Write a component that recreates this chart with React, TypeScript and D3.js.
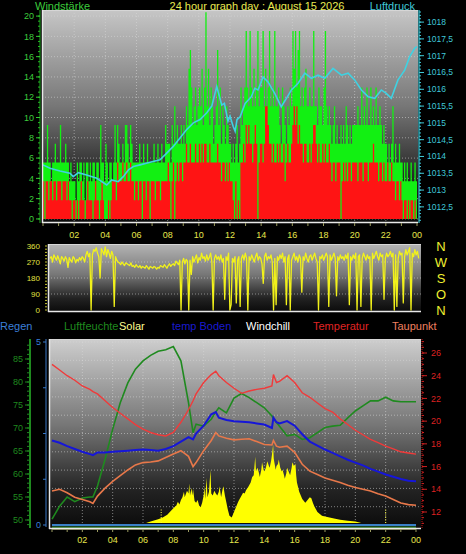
import { area, curveStepAfter, line, range, scaleLinear } from 'd3';

// Weather station 24h overview: wind + pressure, wind direction, and a
// multi-axis temperature / humidity / solar panel. d3 only builds scales and
// paths, everything is rendered as plain SVG JSX.

// ---- wind (5 minute samples, knots) ----
const gustKn = [
  3, 3, 3, 5, 3, 3, 2, 3, 3, 4, 3, 3,
  3, 5, 3, 3, 3, 4, 3, 3, 2, 3, 2, 2,
  2, 1, 3, 2, 3, 3, 2, 3, 1, 3, 3, 2,
  3, 2, 3, 3, 2, 3, 3, 2, 5, 3, 3, 2,
  4, 3, 2, 3, 3, 2, 3, 5, 3, 5, 4, 3,
  3, 4, 3, 5, 5, 4, 3, 5, 4, 3, 3, 3,
  3, 3, 4, 3, 3, 4, 3, 3, 4, 3, 3, 3,
  3, 4, 3, 3, 4, 3, 3, 4, 3, 3, 5, 4,
  4, 4, 3, 5, 4, 6, 4, 5, 4, 4, 5, 4,
  5, 4, 6, 5, 8, 9, 7, 5, 6, 7, 5, 6,
  7, 6, 8, 5, 7, 11, 6, 8, 5, 7, 6, 4,
  5, 6, 9, 5, 7, 4, 6, 5, 4, 6, 5, 4,
  4, 3, 4, 3, 4, 5, 3, 4, 7, 5, 6, 7,
  10, 7, 6, 10, 7, 6, 8, 6, 7, 10, 6, 7,
  7, 10, 6, 8, 6, 7, 10, 6, 7, 6, 10, 6,
  6, 7, 5, 4, 7, 6, 5, 4, 6, 5, 7, 6,
  10, 8, 10, 7, 9, 10, 6, 7, 6, 7, 8, 6,
  6, 7, 6, 6, 10, 6, 6, 5, 7, 6, 6, 5,
  7, 10, 6, 5, 6, 5, 4, 5, 6, 4, 5, 4,
  4, 5, 4, 5, 4, 6, 5, 4, 5, 4, 5, 5,
  5, 5, 6, 5, 5, 7, 5, 6, 5, 7, 5, 5,
  7, 5, 6, 5, 7, 5, 5, 6, 5, 4, 5, 4,
  4, 3, 4, 3, 4, 6, 3, 4, 3, 3, 4, 3,
  3, 2, 3, 2, 3, 2, 2, 3, 2, 2, 3, 2,
];
const speedKn = [
  2, 0, 2, 2, 1, 2, 2, 1, 2, 2, 1, 2,
  2, 2, 1, 2, 2, 2, 1, 2, 1, 1, 0, 1,
  1, 0, 1, 0, 1, 2, 1, 1, 0, 1, 2, 1,
  1, 1, 0, 1, 2, 1, 1, 0, 1, 2, 1, 0,
  0, 0, 1, 0, 1, 2, 2, 2, 1, 3, 2, 2,
  2, 3, 2, 2, 3, 2, 2, 3, 2, 2, 1, 2,
  2, 1, 2, 2, 0, 2, 2, 1, 2, 2, 0, 2,
  2, 2, 1, 2, 2, 2, 1, 2, 2, 2, 2, 2,
  3, 2, 0, 2, 3, 0, 2, 3, 2, 3, 3, 2,
  3, 3, 4, 3, 3, 4, 3, 3, 3, 4, 3, 3,
  4, 3, 4, 3, 4, 4, 3, 3, 4, 3, 3, 3,
  3, 3, 4, 3, 3, 2, 3, 3, 2, 3, 2, 3,
  2, 2, 1, 0, 2, 0, 1, 0, 3, 3, 4, 3,
  5, 4, 5, 4, 4, 3, 4, 5, 4, 0, 3, 4,
  4, 3, 4, 6, 6, 5, 4, 4, 3, 4, 3, 3,
  4, 3, 4, 3, 3, 4, 2, 3, 4, 3, 3, 4,
  5, 6, 5, 6, 4, 5, 4, 4, 3, 4, 4, 3,
  3, 4, 3, 4, 5, 5, 4, 3, 4, 3, 3, 4,
  3, 4, 3, 3, 4, 3, 2, 3, 3, 2, 3, 3,
  3, 0, 2, 3, 2, 3, 2, 3, 3, 2, 3, 3,
  3, 3, 2, 3, 3, 3, 2, 3, 3, 3, 2, 3,
  3, 3, 4, 3, 3, 3, 2, 3, 3, 2, 3, 2,
  2, 3, 2, 2, 3, 2, 2, 1, 2, 2, 1, 2,
  1, 0, 1, 1, 0, 1, 0, 1, 1, 0, 1, 0,
];
const KMH_PER_KN = 1.852;

// ---- wind direction (5 minute samples, degrees) ----
const windDir = [
  290, 300, 270, 310, 295, 280, 305, 285, 260, 300, 290, 275,
  300, 285, 240, 295, 280, 270, 300, 290, 265, 285, 275, 295,
  280, 300, 290, 270, 310, 330, 300, 320, 0, 310, 340, 330,
  350, 320, 300, 180, 345, 330, 310, 355, 300, 340, 320, 290,
  330, 310, 20, 300, 280, 270, 265, 255, 270, 260, 250, 265,
  260, 255, 250, 265, 245, 250, 240, 255, 245, 240, 250, 235,
  245, 240, 235, 250, 240, 230, 245, 240, 235, 245, 240, 230,
  240, 235, 250, 245, 240, 255, 245, 235, 250, 260, 245, 255,
  260, 250, 275, 265, 255, 280, 0, 270, 290, 260, 285, 275,
  0, 280, 200, 300, 270, 290, 310, 265, 295, 280, 320, 290,
  300, 275, 310, 280, 295, 320, 270, 0, 290, 310, 285, 300,
  280, 310, 270, 290, 60, 300, 280, 320, 0, 30, 290, 270,
  300, 40, 280, 300, 20, 290, 310, 280, 320, 290, 0, 300,
  280, 310, 290, 270, 300, 320, 280, 300, 290, 260, 150, 300,
  320, 280, 300, 290, 310, 270, 0, 290, 30, 300, 280, 310,
  290, 320, 270, 300, 30, 290, 310, 0, 280, 300, 320, 280,
  300, 270, 310, 290, 100, 300, 280, 320, 290, 270, 300, 310,
  280, 300, 320, 290, 270, 0, 300, 290, 310, 280, 300, 320,
  300, 20, 310, 280, 300, 320, 290, 80, 300, 280, 310, 290,
  300, 280, 310, 290, 320, 30, 300, 280, 310, 290, 320, 0,
  300, 310, 20, 290, 320, 300, 280, 310, 290, 300, 0, 320,
  290, 310, 330, 300, 280, 320, 300, 310, 60, 290, 320, 300,
  310, 330, 300, 320, 0, 310, 20, 290, 330, 310, 320, 40,
  300, 340, 310, 330, 350, 0, 320, 300, 340, 310, 330, 290,
];

// ---- pressure (hPa) ----
const pressureHours = [
  0, 0.45, 1.09, 1.73, 1.94, 2.27, 2.8, 3.45, 4.09, 4.41, 4.83, 5.15, 5.48, 5.8, 6.23, 6.87,
  7.51, 7.94, 8.36, 8.79, 9.22, 9.65, 10.08, 10.51, 10.83, 11.15, 11.47, 11.64, 11.87, 12.0,
  12.2, 12.33, 12.45, 12.65, 12.97, 13.37, 13.59, 13.8, 14.12, 14.44, 14.87, 15.29, 15.62,
  15.94, 16.37, 16.8, 17.22, 17.65, 18.08, 18.61, 19.15, 19.58, 20.0, 20.43, 20.86, 21.29,
  21.71, 22.03, 22.35, 22.78, 23.21, 23.53, 23.85, 24,
];
const pressureHpa = [
  1013.75, 1013.65, 1013.57, 1013.5, 1013.4, 1013.52, 1013.45, 1013.35, 1013.15, 1013.3,
  1013.25, 1013.4, 1013.6, 1013.7, 1013.75, 1013.83, 1013.9, 1014.1, 1014.3, 1014.55,
  1014.8, 1015.0, 1015.1, 1015.3, 1015.5, 1016.08, 1015.53, 1015.58, 1015.05, 1015.2,
  1014.9, 1014.75, 1015.1, 1015.18, 1015.58, 1015.78, 1016.03, 1015.98, 1016.37, 1016.22,
  1015.88, 1015.48, 1015.73, 1015.98, 1016.18, 1016.48, 1016.33, 1016.42, 1016.33, 1016.62,
  1016.42, 1016.48, 1016.28, 1015.98, 1015.78, 1015.73, 1015.98, 1015.88, 1015.73, 1016.28,
  1016.57, 1016.97, 1017.22, 1017.27,
];

// ---- temperatures / humidity ----
const tHours = [
  0, 0.5, 1, 1.5, 2, 2.5, 2.7, 3, 3.5, 4, 4.5, 5, 5.5, 6, 6.5, 7, 7.5, 8, 8.5, 9, 9.3, 9.5,
  10, 10.5, 10.8, 11, 11.5, 12, 12.5, 13, 13.5, 14, 14.5, 14.6, 14.8, 15, 15.5, 16, 16.5, 17,
  17.5, 18, 18.5, 19, 19.5, 20, 20.5, 21, 21.5, 22, 22.5, 23, 23.5, 24,
];
const temperature = [
  25.0, 24.5, 24.0, 23.6, 23.1, 22.8, 22.6, 22.4, 21.8, 21.2, 20.7, 20.2, 19.7, 19.3, 19.0,
  18.8, 18.7, 19.0, 19.9, 21.0, 21.8, 22.4, 23.4, 24.1, 24.4, 24.0, 23.4, 22.9, 22.45, 22.65,
  22.8, 22.9, 23.1, 24.1, 23.4, 23.5, 24.0, 23.4, 22.5, 22.1, 21.6, 21.1, 20.8, 20.2, 19.7,
  19.2, 18.8, 18.4, 18.1, 17.8, 17.55, 17.3, 17.2, 17.1,
];
const soilTemp = [
  18.3, 18.1, 17.8, 17.55, 17.3, 17.1, 17.0, 17.25, 17.25, 17.3, 17.35, 17.4, 17.45, 17.5,
  17.45, 17.4, 17.55, 17.8, 18.2, 18.6, 18.4, 18.9, 19.6, 20.6, 20.8, 20.3, 20.1, 20.0, 19.95,
  19.9, 19.8, 19.7, 19.4, 20.3, 19.9, 19.8, 20.0, 19.6, 18.85, 18.2, 17.85, 17.5, 17.2, 16.9,
  16.6, 16.35, 16.1, 15.8, 15.55, 15.3, 15.1, 14.9, 14.75, 14.7,
];
const dewPoint = [
  13.85, 14.0, 13.7, 13.3, 13.1, 12.9, 12.75, 13.4, 14.1, 14.7, 15.2, 15.7, 16.15, 16.35,
  16.4, 16.5, 16.8, 17.1, 17.4, 16.9, 16.0, 16.35, 17.4, 18.3, 19.0, 18.7, 18.5, 18.35, 18.4,
  18.45, 18.2, 17.95, 17.9, 18.3, 17.8, 17.7, 17.8, 17.25, 16.2, 15.6, 15.3, 15.0, 14.8, 14.6,
  14.35, 14.15, 14.0, 13.85, 13.6, 13.4, 13.1, 12.8, 12.65, 12.6,
];
const humidity = [
  50.2, 53, 55.0, 54.0, 54.8, 55.0, 55.0, 57.4, 63.2, 69.7, 75.5, 79.8, 82.8, 84.6, 85.8,
  86.7, 87.0, 87.7, 84.6, 75.5, 69.0, 70.8, 70.4, 71.9, 73.5, 74.4, 73.3, 76.5, 77.5, 76.6,
  75.5, 74.4, 72.6, 72.0, 71.2, 70.4, 68.3, 68.6, 67.5, 67.9, 69.0, 70.1, 70.4, 70.6, 72.2,
  73.7, 74.8, 75.9, 75.9, 76.7, 75.9, 75.7, 75.7, 75.7,
];
const rainHours = [0, 24];
const rainMm = [0, 0];

// ---- solar (W/m²) ----
const solarHours = [
  6.2, 6.5, 7, 7.3, 7.6, 8, 8.2, 8.3, 8.4, 8.5,
  8.6, 8.7, 8.75, 8.9, 9.0, 9.05, 9.1, 9.2, 9.25, 9.3,
  9.4, 9.5, 9.6, 9.7, 9.8, 9.9, 10.0, 10.05, 10.1, 10.2,
  10.25, 10.35, 10.45, 10.5, 10.6, 10.7, 10.8, 10.9, 11.0, 11.05,
  11.15, 11.25, 11.3, 11.4, 11.5, 11.6, 11.7, 11.85, 12.0, 12.1,
  12.2, 12.3, 12.4, 12.5, 12.6, 12.7, 12.8, 12.9, 13.0, 13.1,
  13.2, 13.3, 13.4, 13.45, 13.55, 13.65, 13.7, 13.8, 13.85, 13.95,
  14.0, 14.1, 14.2, 14.3, 14.35, 14.45, 14.5, 14.58, 14.62, 14.66,
  14.75, 14.8, 14.9, 14.95, 15.05, 15.15, 15.2, 15.3, 15.35, 15.45,
  15.5, 15.6, 15.7, 15.8, 15.85, 15.95, 16.05, 16.1, 16.15, 16.3,
  16.5, 16.7, 16.8, 16.9, 17.0, 17.1, 17.2, 17.3, 17.5, 17.8,
  18.0, 18.3, 18.6, 19.0, 19.5, 20.0, 20.4,
];
const solar = [
  0, 8, 20, 30, 45, 80, 95, 115, 100, 125,
  140, 170, 140, 175, 160, 215, 150, 190, 150, 185,
  120, 110, 125, 95, 85, 110, 150, 200, 130, 245,
  140, 170, 290, 160, 150, 175, 160, 150, 170, 200,
  140, 185, 200, 150, 110, 70, 40, 30, 60, 80,
  100, 120, 135, 150, 165, 160, 180, 190, 205, 220,
  250, 260, 360, 280, 300, 270, 250, 290, 330, 290,
  280, 300, 335, 310, 300, 340, 370, 425, 350, 330,
  290, 310, 320, 345, 300, 280, 290, 260, 240, 270,
  300, 280, 260, 300, 330, 310, 320, 260, 220, 170,
  130, 110, 120, 130, 140, 135, 110, 90, 60, 40,
  35, 30, 25, 18, 12, 8, 0,
];
const solarMarkHours = [7.2, 22];

// ---- ticks / labels ----
const hourLabels = ['02', '04', '06', '08', '10', '12', '14', '16', '18', '20', '22', '00'];
const windTicks = [0, 2, 4, 6, 8, 10, 12, 14, 16, 18, 20];
const pressureTicks = [1012.5, 1013, 1013.5, 1014, 1014.5, 1015, 1015.5, 1016, 1016.5, 1017, 1017.5, 1018];
const dirTicks = [0, 90, 180, 270, 360];
const compass = ['N', 'O', 'S', 'W', 'N'];
const humTicks = [50, 55, 60, 65, 70, 75, 80, 85];
const tempTicks = [12, 14, 16, 18, 20, 22, 24, 26];
const rainLabelTicks = [0, 5];
const rainTicks = [0, 1.25, 2.5, 3.75, 5];
const rainGrid = [0.5, 1, 1.5, 2, 2.5, 3, 3.5, 4, 4.5, 5];
const legendNames = ['Regen', 'Luftfeuchte', 'Solar', 'temp Boden', 'Windchill', 'Temperatur', 'Taupunkt'];
const legendColors = ['#3b7fd8', '#1f8a1f', '#ffff90', '#1a1ad0', '#ffffff', '#e02424', '#f08060'];

// ---- layout ----
const W = 466;
const H = 554;
const FONT = '"Liberation Sans", Arial, sans-serif';
const LEGEND_X = [0, 64, 119, 172, 246, 313, 392];
const TOP = { x0: 42, x1: 418, y0: 10, y1: 223 };
const MID = { x0: 48, x1: 421, y0: 244, y1: 312 };
const BOT = { x0: 49, x1: 421, y0: 339, y1: 529 };
const GRID = { stroke: '#d8d8d8', strokeOpacity: 0.55, strokeDasharray: '1 2', strokeWidth: 1 };
const AXIS_YELLOW = '#e6e64c';

const evenHours = range(2, 24, 2);
const allHours = range(0, 25, 1);

const xTop = scaleLinear().domain([0, 24]).range([43, 417]);
const yWind = scaleLinear().domain([-0.4, 20.6]).range([TOP.y1, TOP.y0]);
const yPress = scaleLinear().domain([1012.02, 1018.36]).range([TOP.y1, TOP.y0]);

const xMid = scaleLinear().domain([0, 24]).range([50, 420]);
const yDir = scaleLinear().domain([0, 360]).range([310, 246]);

const xBot = scaleLinear().domain([0, 24]).range([52, 416]);
const yTemp = scaleLinear().domain([12, 26]).range([512, 353]);
const yHum = scaleLinear().domain([50, 85]).range([520, 359]);
const yRain = scaleLinear().domain([0, 5]).range([525, 342]);
const ySolar = scaleLinear().domain([0, 1000]).range([523, 339]);

type P = [number, number];

function windArea(values: number[]) {
  const pts: P[] = values.map((v, i) => [i / 12, v * KMH_PER_KN]);
  pts.push([24, values[values.length - 1] * KMH_PER_KN]);
  return (
    area<P>()
      .x((d) => xTop(d[0]))
      .y0(yWind(0))
      .y1((d) => yWind(d[1]))
      .curve(curveStepAfter)(pts) ?? undefined
  );
}

function series(hours: number[], values: number[], x: (v: number) => number, y: (v: number) => number) {
  const pts: P[] = hours.map((h, i) => [h, values[i]]);
  return (
    line<P>()
      .x((d) => x(d[0]))
      .y((d) => y(d[1]))(pts) ?? undefined
  );
}

function Backdrop({ box, id }: { box: typeof TOP; id: string }) {
  return <rect x={box.x0} y={box.y0} width={box.x1 - box.x0} height={box.y1 - box.y0} fill={`url(#${id})`} />;
}

function Frame({ box }: { box: typeof TOP }) {
  return (
    <g fill="none">
      <line x1={box.x0} x2={box.x1} y1={box.y0 + 0.5} y2={box.y0 + 0.5} stroke="#d6d6d6" />
      <line x1={box.x0 + 0.5} x2={box.x0 + 0.5} y1={box.y0} y2={box.y1} stroke="#e8e8e8" strokeWidth={1.5} />
      <line x1={box.x0} x2={box.x1} y1={box.y1 - 0.5} y2={box.y1 - 0.5} stroke="#e8e8e8" strokeWidth={1.5} />
    </g>
  );
}

function Gradient({ id, top }: { id: string; top: string }) {
  return (
    <linearGradient id={id} x1="0" x2="0" y1="0" y2="1">
      <stop offset="0" stopColor={top} />
      <stop offset="0.45" stopColor="#777777" />
      <stop offset="0.8" stopColor="#222222" />
      <stop offset="1" stopColor="#0a0a0a" />
    </linearGradient>
  );
}

function fmtPress(v: number) {
  return String(v).replace('.', ',');
}

export default function App() {
  const windMinor = range(0, 20.01, 0.5);
  const pressMinor = range(1012.1, 1018.35, 0.1);
  const humMinor = range(49, 89, 1);
  const tempMinor = range(11, 27.01, 0.5);
  const dirMinor = range(0, 361, 18);

  return (
    <svg
      width={W}
      height={H}
      viewBox={`0 0 ${W} ${H}`}
      style={{ position: 'absolute', left: 0, top: 0, display: 'block', fontFamily: FONT }}
    >
      <defs>
        <Gradient id="bgTop" top="#c6c6c6" />
        <Gradient id="bgMid" top="#b4b4b4" />
        <Gradient id="bgBot" top="#cecece" />
      </defs>
      <rect width={W} height={H} fill="#000" />

      {/* ---------- header ---------- */}
      <text x={35} y={10} fill="#3ccc3c" style={{ fontSize: 11 }}>Windstärke</text>
      <text x={257} y={10} textAnchor="middle" fill="#e8e850" style={{ fontSize: 11 }}>
        24 hour graph day : August 15 2026
      </text>
      <text x={415} y={10} textAnchor="end" fill="#40c8d8" style={{ fontSize: 11 }}>Luftdruck</text>

      {/* ---------- wind / pressure panel ---------- */}
      <Backdrop box={TOP} id="bgTop" />
      {windTicks.map((t) => (
        <line key={t} x1={TOP.x0} x2={TOP.x1} y1={yWind(t)} y2={yWind(t)} {...GRID} />
      ))}
      {evenHours.map((h) => (
        <line key={h} x1={xTop(h)} x2={xTop(h)} y1={TOP.y0} y2={TOP.y1} {...GRID} />
      ))}
      <path d={windArea(gustKn)} fill="#12f012" />
      <path d={windArea(speedKn)} fill="#ff1414" />
      <path d={series(pressureHours, pressureHpa, xTop, yPress)} fill="none" stroke="#3fd2e2" strokeWidth={1.6} />
      <Frame box={TOP} />

      {/* left wind axis */}
      <line x1={40} x2={40} y1={TOP.y0} y2={TOP.y1} stroke="#22aa22" />
      {windMinor.map((t) => (
        <line key={t} x1={38} x2={40} y1={yWind(t)} y2={yWind(t)} stroke="#22bb22" />
      ))}
      {windTicks.map((t) => (
        <g key={t}>
          <line x1={36} x2={40} y1={yWind(t)} y2={yWind(t)} stroke="#33cc33" />
          <text x={34} y={yWind(t)} dy="0.35em" textAnchor="end" fill="#3ccc3c" style={{ fontSize: 9 }}>
            {t}
          </text>
        </g>
      ))}

      {/* right pressure axis */}
      <line x1={419} x2={419} y1={TOP.y0} y2={TOP.y1} stroke="#3fc8d8" strokeWidth={1.2} />
      {pressMinor.map((t) => (
        <line key={t} x1={419} x2={421} y1={yPress(t)} y2={yPress(t)} stroke="#3fc8d8" />
      ))}
      {pressureTicks.map((t) => (
        <g key={t}>
          <line x1={419} x2={424} y1={yPress(t)} y2={yPress(t)} stroke="#3fc8d8" />
          <text x={427} y={yPress(t)} dy="0.35em" fill="#3fc8d8" style={{ fontSize: 8.5 }}>
            {fmtPress(t)}
          </text>
        </g>
      ))}

      {/* time axis */}
      {allHours.map((h) => (
        <line key={h} x1={xTop(h)} x2={xTop(h)} y1={TOP.y1} y2={TOP.y1 + 3} stroke="#9a9a60" />
      ))}
      {evenHours.concat([24]).map((h, i) => (
        <text key={h} x={xTop(h)} y={238} textAnchor="middle" fill={AXIS_YELLOW} style={{ fontSize: 9 }}>
          {hourLabels[i]}
        </text>
      ))}

      {/* ---------- wind direction panel ---------- */}
      <Backdrop box={MID} id="bgMid" />
      {[90, 180, 270].map((t) => (
        <line key={t} x1={MID.x0} x2={MID.x1} y1={yDir(t)} y2={yDir(t)} {...GRID} />
      ))}
      <path
        d={series(windDir.map((_, i) => i / 12), windDir, xMid, yDir)}
        fill="none"
        stroke="#f2f21a"
        strokeWidth={1.3}
        strokeLinejoin="round"
      />
      <Frame box={MID} />
      {dirMinor.map((t) => (
        <line key={t} x1={45} x2={47} y1={yDir(t)} y2={yDir(t)} stroke="#c8c830" />
      ))}
      {dirTicks.map((t) => (
        <text key={t} x={40} y={yDir(t)} dy="0.35em" textAnchor="end" fill="#e0e040" style={{ fontSize: 8 }}>
          {t}
        </text>
      ))}
      {dirTicks.map((t, i) => (
        <text key={t} x={441} y={yDir(t)} dy="0.36em" textAnchor="middle" fill="#f0f030" style={{ fontSize: 13 }}>
          {compass[i]}
        </text>
      ))}

      {/* ---------- legend ---------- */}
      {legendNames.map((n, i) => (
        <text key={n} x={LEGEND_X[i]} y={330} fill={legendColors[i]} style={{ fontSize: 11 }}>
          {n}
        </text>
      ))}

      {/* ---------- temperature panel ---------- */}
      <Backdrop box={BOT} id="bgBot" />
      {rainGrid.map((t) => (
        <line key={t} x1={BOT.x0} x2={BOT.x1} y1={yRain(t)} y2={yRain(t)} {...GRID} />
      ))}
      {evenHours.map((h) => (
        <line key={h} x1={xBot(h)} x2={xBot(h)} y1={BOT.y0} y2={BOT.y1} {...GRID} />
      ))}
      <path
        d={
          area<P>()
            .x((d) => xBot(d[0]))
            .y0(ySolar(0))
            .y1((d) => ySolar(d[1]))(solarHours.map((h, i) => [h, solar[i]] as P)) ?? undefined
        }
        fill="#ffff00"
      />
      {solarMarkHours.map((h) => (
        <line
          key={h}
          x1={xBot(h)}
          x2={xBot(h)}
          y1={ySolar(0)}
          y2={ySolar(80)}
          stroke="#ffff40"
          strokeDasharray="1 1.5"
        />
      ))}
      <path d={series(tHours, humidity, xBot, yHum)} fill="none" stroke="#1f8a1f" strokeWidth={1.6} />
      <path d={series(tHours, soilTemp, xBot, yTemp)} fill="none" stroke="#1616d8" strokeWidth={2} />
      <path d={series(tHours, temperature, xBot, yTemp)} fill="none" stroke="#f03a3a" strokeWidth={1.4} />
      <path d={series(tHours, dewPoint, xBot, yTemp)} fill="none" stroke="#e8784a" strokeWidth={1.6} />
      <path d={series(rainHours, rainMm, xBot, yRain)} fill="none" stroke="#3a80c8" strokeWidth={2} />
      <line x1={xBot(0)} x2={xBot(24)} y1={yRain(0) + 2.2} y2={yRain(0) + 2.2} stroke="#2a7a2a" strokeWidth={1.4} />
      <line x1={xBot(0)} x2={xBot(24)} y1={yRain(0) + 3.8} y2={yRain(0) + 3.8} stroke="#e8e890" strokeWidth={1.6} />
      <Frame box={BOT} />

      {/* humidity axis */}
      <line x1={30} x2={30} y1={BOT.y0} y2={BOT.y1 - 1} stroke="#1f8a1f" strokeWidth={2} />
      {humMinor.map((t) => (
        <line key={t} x1={27} x2={29} y1={yHum(t)} y2={yHum(t)} stroke="#1f8a1f" />
      ))}
      {humTicks.map((t) => (
        <g key={t}>
          <line x1={25} x2={29} y1={yHum(t)} y2={yHum(t)} stroke="#1f8a1f" />
          <text x={23} y={yHum(t)} dy="0.35em" textAnchor="end" fill="#1f8a1f" style={{ fontSize: 9 }}>
            {t}
          </text>
        </g>
      ))}

      {/* rain axis */}
      <line x1={46} x2={46} y1={BOT.y0} y2={BOT.y1 - 2} stroke="#3a78c8" />
      {rainTicks.map((t) => (
        <line key={t} x1={43} x2={46} y1={yRain(t)} y2={yRain(t)} stroke="#3a78c8" />
      ))}
      {rainLabelTicks.map((t) => (
        <text key={t} x={41} y={yRain(t)} dy="0.35em" textAnchor="end" fill="#3b7fd8" style={{ fontSize: 9 }}>
          {t}
        </text>
      ))}

      {/* temperature axis */}
      <line x1={422} x2={422} y1={BOT.y0} y2={BOT.y1} stroke="#c01818" strokeDasharray="1 1" />
      {tempMinor.map((t) => (
        <line key={t} x1={422} x2={424} y1={yTemp(t)} y2={yTemp(t)} stroke="#d02020" />
      ))}
      {tempTicks.map((t) => (
        <g key={t}>
          <line x1={422} x2={427} y1={yTemp(t)} y2={yTemp(t)} stroke="#d02020" />
          <text x={431} y={yTemp(t)} dy="0.35em" fill="#dd2222" style={{ fontSize: 9 }}>
            {t}
          </text>
        </g>
      ))}

      {/* time axis */}
      {allHours.map((h) => (
        <line key={h} x1={xBot(h)} x2={xBot(h)} y1={BOT.y1} y2={BOT.y1 + 3} stroke="#9a9a60" />
      ))}
      {evenHours.concat([24]).map((h, i) => (
        <text key={h} x={xBot(h)} y={543} textAnchor="middle" fill={AXIS_YELLOW} style={{ fontSize: 9 }}>
          {hourLabels[i]}
        </text>
      ))}
    </svg>
  );
}
